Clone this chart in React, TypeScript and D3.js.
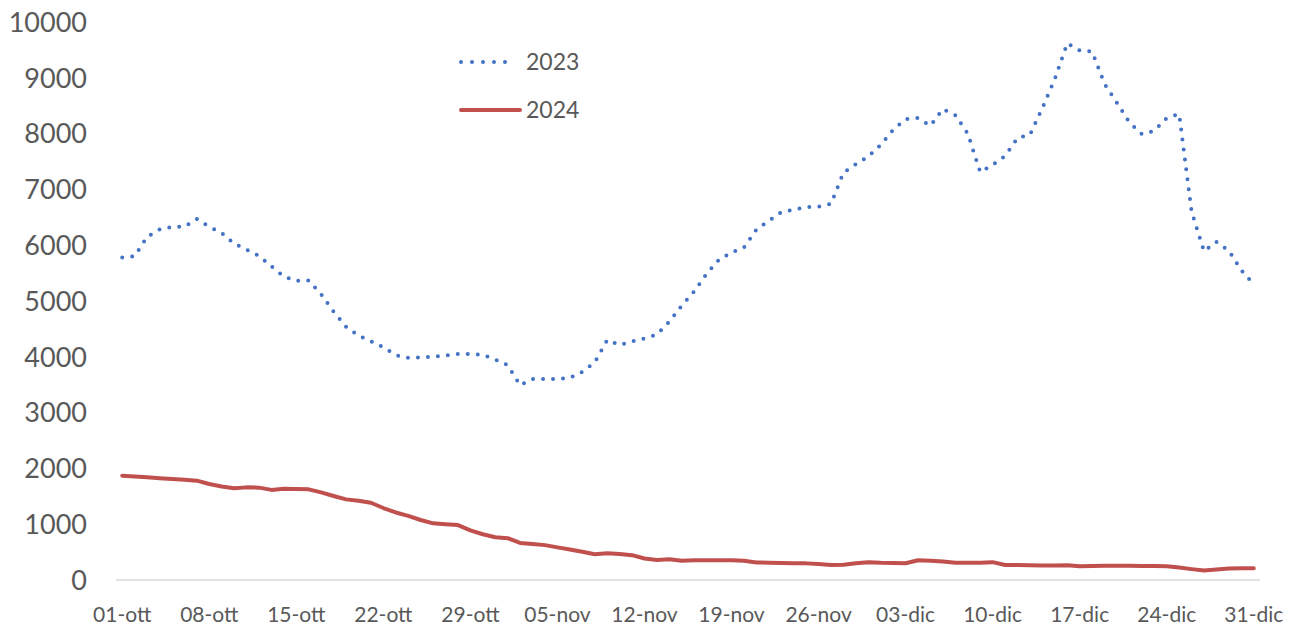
import React, { useRef, useEffect } from 'react';
import * as d3 from 'd3';

// one value per day, 01-ott .. 31-dic
const days = d3.timeDay.range(new Date(2024, 9, 1), new Date(2025, 0, 1));

const tickLabels = [
  '01-ott', '08-ott', '15-ott', '22-ott', '29-ott', '05-nov', '12-nov',
  '19-nov', '26-nov', '03-dic', '10-dic', '17-dic', '24-dic', '31-dic'
];

const values2023 = [
  5780, 5800, 6150, 6280, 6330, 6330, 6470, 6330, 6220, 6030,
  5920, 5810, 5620, 5440, 5360, 5370, 5120, 4810, 4540, 4380,
  4280, 4170, 4030, 3980, 3990, 4000, 4025, 4050, 4050, 4035,
  3950, 3850, 3490, 3600, 3600, 3600, 3620, 3730, 3900, 4300,
  4210, 4275, 4330, 4400, 4630, 4920, 5170, 5490, 5740, 5870,
  5960, 6280, 6440, 6590, 6640, 6680, 6690, 6740, 7300, 7450,
  7590, 7800, 8070, 8260, 8280, 8140, 8440, 8330, 8000, 7310,
  7440, 7600, 7920, 7980, 8460, 8980, 9620, 9490, 9470, 8890,
  8550, 8200, 7990, 8050, 8280, 8350, 6600, 5890, 6060, 5900,
  5550, 5300
];

const values2024 = [
  1870, 1855, 1840, 1825, 1810, 1795, 1780, 1720, 1675, 1645,
  1660, 1655, 1615, 1635, 1630, 1625, 1570, 1505, 1445, 1420,
  1385, 1290, 1210, 1150, 1075, 1015, 1000, 985, 890, 820,
  765, 750, 665, 645, 625, 585, 545, 505, 460, 480,
  465, 445, 385, 360, 370, 345, 355, 355, 355, 355,
  345, 315, 310, 305, 300, 298, 285, 270, 275, 300,
  320, 310, 305, 300, 355, 345, 330, 310, 310, 310,
  320, 270, 268, 265, 262, 262, 265, 245, 250, 255,
  255, 255, 250, 250, 245, 225, 195, 170, 190, 205,
  210, 212
];

const yTicks = [0, 1000, 2000, 3000, 4000, 5000, 6000, 7000, 8000, 9000, 10000];

const series = [
  { name: '2023', values: values2023, color: '#4472C4', width: 4, dash: '0 10' },
  { name: '2024', values: values2024, color: '#C0504D', width: 4, dash: null as string | null }
];

const App: React.FC = () => {
  const ref = useRef<SVGSVGElement | null>(null);

  useEffect(() => {
    const svg = d3.select(ref.current);
    svg.selectAll('*').remove();
    const width = 1298;
    const height = 628;
    svg.attr('width', width).attr('height', height);

    const font = 'Lato, "Open Sans", sans-serif';
    const grey = '#595959';

    const x = d3.scaleBand<number>()
      .domain(d3.range(days.length))
      .range([116, 1260]);
    const cx = (i: number) => (x(i) as number) + x.bandwidth() / 2;

    const y = d3.scaleLinear().domain([0, 10000]).range([580, 22]);

    // y labels
    svg.append('g')
      .selectAll('text')
      .data(yTicks)
      .join('text')
      .attr('x', 87)
      .attr('y', (d) => y(d))
      .attr('dy', '0.36em')
      .attr('text-anchor', 'end')
      .attr('font-family', font)
      .attr('font-size', 27)
      .attr('fill', grey)
      .text((d) => String(d));

    // category axis line
    svg.append('line')
      .attr('x1', 116)
      .attr('x2', 1260)
      .attr('y1', y(0))
      .attr('y2', y(0))
      .attr('stroke', '#d9d9d9')
      .attr('stroke-width', 1.5);

    // x labels, one every 7 days
    svg.append('g')
      .selectAll('text')
      .data(tickLabels)
      .join('text')
      .attr('x', (_d, i) => cx(i * 7))
      .attr('y', 614)
      .attr('dy', '0.36em')
      .attr('text-anchor', 'middle')
      .attr('font-family', font)
      .attr('font-size', 21)
      .attr('fill', grey)
      .text((d) => d);

    const line = d3.line<number>()
      .x((_d, i) => cx(i))
      .y((d) => y(d));

    series.forEach((s) => {
      const p = svg.append('path')
        .datum(s.values)
        .attr('fill', 'none')
        .attr('stroke', s.color)
        .attr('stroke-width', s.width)
        .attr('stroke-linejoin', 'round')
        .attr('stroke-linecap', 'round')
        .attr('d', line as any);
      if (s.dash) p.attr('stroke-dasharray', s.dash);
    });

    // legend
    const legendY = [62, 110];
    series.forEach((s, i) => {
      const g = svg.append('g');
      const l = g.append('line')
        .attr('x1', 461)
        .attr('x2', s.dash ? 516 : 520)
        .attr('y1', legendY[i])
        .attr('y2', legendY[i])
        .attr('stroke', s.color)
        .attr('stroke-width', s.width)
        .attr('stroke-linecap', 'round');
      if (s.dash) l.attr('stroke-dasharray', '0 11');
      g.append('text')
        .attr('x', 526)
        .attr('y', legendY[i])
        .attr('dy', '0.36em')
        .attr('font-family', font)
        .attr('font-size', 23)
        .attr('fill', grey)
        .text(s.name);
    });
  }, []);

  return (
    <div style={{ position: 'absolute', left: 0, top: 0 }}>
      <svg ref={ref} style={{ display: 'block' }} />
    </div>
  );
};

export default App;
